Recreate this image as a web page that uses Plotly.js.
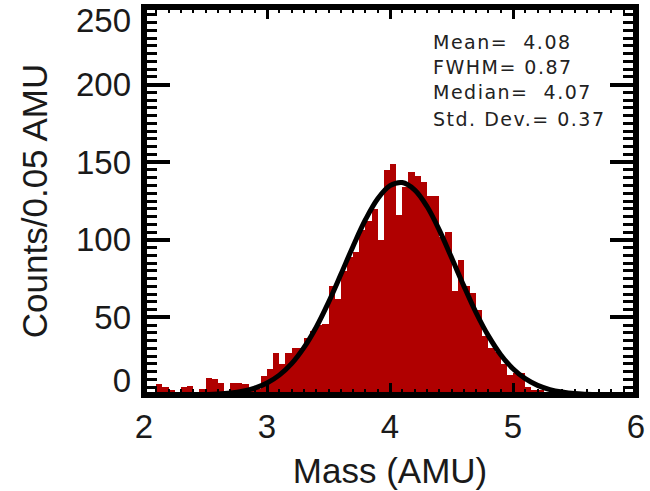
<!DOCTYPE html>
<html>
<head>
<meta charset="utf-8">
<script src="https://cdn.plot.ly/plotly-3.0.1.min.js"></script>
<style>
body{margin:0;padding:0;background:#fff;}
#chart{width:650px;height:491px;}
#chart .annotation-text{letter-spacing:1.5px;}
</style>
</head>
<body>
<div id="chart"></div>
<script>
// Histogram: counts per 0.05 AMU bin, first bin starts at 2.00 AMU
var binStart = 2.0;
var binWidth = 0.05;
var counts = [
  0, 0, 7, 5, 3, 1, 5, 6, 2, 4,
  11, 10, 8, 2, 8, 8, 7, 4, 4, 12,
  17, 27, 20, 27, 30, 30, 37, 41, 45, 46,
  70, 62, 80, 89, 92, 106, 112, 120, 100, 145,
  149, 116, 134, 144, 141, 137, 128, 128, 102, 105,
  67, 87, 70, 66, 55, 38, 30, 28, 20, 13,
  14, 14, 5, 3, 3, 2, 2, 1, 1, 0,
  1, 0, 0, 1, 0, 1, 0, 0, 0, 0
];
// Gaussian fit curve
var fitMass = [2.0, 2.6, 2.8, 2.9, 3.0, 3.1, 3.2, 3.3, 3.4, 3.5, 3.6, 3.7, 3.8, 3.9, 4.0, 4.1, 4.2, 4.3, 4.4, 4.5, 4.6, 4.7, 4.8, 4.9, 5.0, 5.1, 5.2, 5.3, 5.4, 5.5, 5.6, 5.8, 6.0];
var fitCounts = [0, 0.6, 2.4, 4.4, 7.7, 12.8, 20.2, 30.5, 43.7, 59.7, 77.6, 95.9, 112.9, 126.5, 134.9, 136.9, 132.2, 121.6, 106.4, 88.6, 70.3, 53.0, 38.1, 26.0, 16.9, 10.5, 6.2, 3.5, 1.9, 0.9, 0.5, 0.1, 0];
// Statistics text
var statLines = ["Mean=  4.08", "FWHM= 0.87", "Median=  4.07", "Std. Dev.= 0.37"];
var xTickVals = [2, 3, 4, 5, 6];
var yTickVals = [0, 50, 100, 150, 200, 250];
var yTickText = ["", "50", "100", "150", "200", ""];
var yBottomLabel = ["0"];
var yTopLabel = ["250"];

var fontFamily = "Liberation Sans, Arial, sans-serif";
var tickFont = {family: fontFamily, size: 33, color: "#1a1a1a"};
var titleFont = {family: fontFamily, size: 35, color: "#1a1a1a"};

var traces = [
  {
    type: "bar",
    x0: binStart + binWidth / 2,
    dx: binWidth,
    y: counts,
    marker: {color: "#b00000", line: {width: 0}},
    hoverinfo: "skip"
  },
  {
    type: "scatter",
    mode: "lines",
    x: fitMass,
    y: fitCounts,
    line: {color: "#000000", width: 5, shape: "spline"},
    hoverinfo: "skip"
  },
  // invisible helpers to carry the shifted end labels of the y axis
  {type: "scatter", mode: "none", x: [2], y: [0], yaxis: "y2", hoverinfo: "skip"},
  {type: "scatter", mode: "none", x: [2], y: [0], yaxis: "y3", hoverinfo: "skip"}
];

var statY = [0.9106, 0.846, 0.7817, 0.7113];
var annotations = statLines.map(function (t, i) {
  return {
    xref: "paper", yref: "paper",
    x: 0.5833, y: statY[i],
    xanchor: "left", yanchor: "middle", align: "left",
    text: t, showarrow: false,
    font: {family: "DejaVu Sans, sans-serif", size: 19, color: "#222"}
  };
});

function endAxis(vals, txt, shift) {
  return {
    overlaying: "y", anchor: "x", side: "left",
    range: [0, 250],
    tickvals: vals, ticktext: txt,
    ticks: "", showline: false, showgrid: false, zeroline: false,
    tickfont: tickFont,
    ticklabelstandoff: 12,
    ticklabelshift: shift,
    ticklabeloverflow: "allow"
  };
}

var layout = {
  width: 650, height: 491,
  margin: {l: 144, r: 14, t: 7, b: 96},
  paper_bgcolor: "#ffffff",
  plot_bgcolor: "#ffffff",
  showlegend: false,
  bargap: 0,
  xaxis: {
    range: [2, 6],
    tickvals: xTickVals,
    ticks: "inside", ticklen: 12, tickwidth: 3, tickcolor: "#000",
    mirror: "ticks", showline: false, showgrid: false, zeroline: false,
    minor: {dtick: 0.1, ticks: "inside", ticklen: 6, tickwidth: 2, tickcolor: "#000", showgrid: false},
    tickfont: tickFont,
    ticklabelstandoff: 9,
    title: {text: "Mass (AMU)", font: titleFont, standoff: 14}
  },
  yaxis: {
    range: [0, 250],
    tickvals: yTickVals, ticktext: yTickText,
    ticks: "inside", ticklen: 26, tickwidth: 4, tickcolor: "#000",
    mirror: "ticks", showline: false, showgrid: false, zeroline: false,
    minor: {dtick: 5, ticks: "inside", ticklen: 13, tickwidth: 3, tickcolor: "#000", showgrid: false},
    tickfont: tickFont,
    ticklabelstandoff: 12,
    title: {text: "Counts/0.05 AMU", font: titleFont, standoff: 17}
  },
  yaxis2: endAxis([0], yBottomLabel, -15),
  yaxis3: endAxis([250], yTopLabel, 13),
  shapes: [{
    type: "rect", xref: "paper", yref: "paper",
    x0: 0, x1: 1, y0: 0, y1: 1,
    line: {color: "#000", width: 6}
  }],
  annotations: annotations
};

Plotly.newPlot("chart", traces, layout, {staticPlot: true, displayModeBar: false});
</script>
</body>
</html>
